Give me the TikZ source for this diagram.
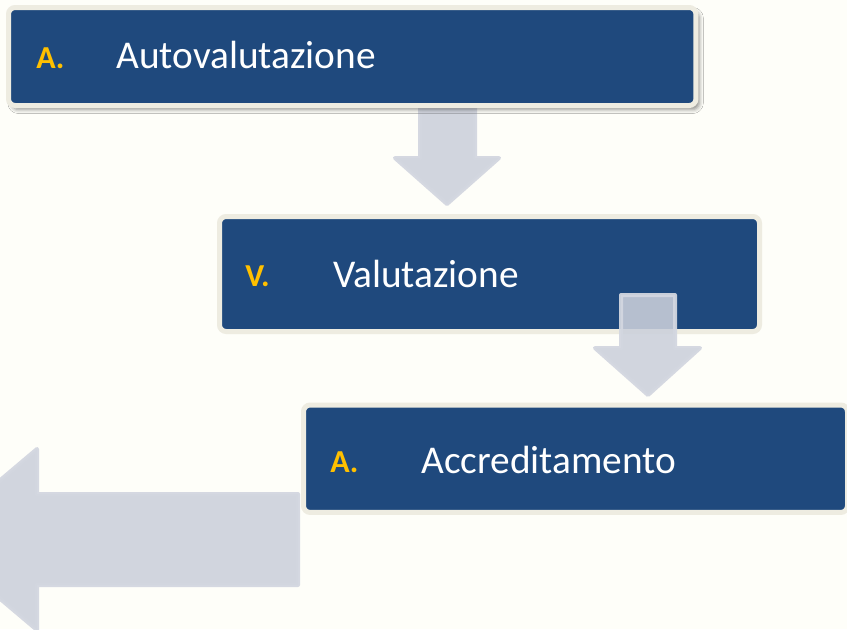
\documentclass[tikz,border=0pt]{standalone}
\usepackage{fontspec}
\setmainfont{Carlito}
\usetikzlibrary{positioning, shadows.blur}
\definecolor{paper}{HTML}{FEFEF9}
\definecolor{stageblue}{HTML}{1F497D}
\definecolor{stagerim}{HTML}{EEECE1}
\definecolor{stagegold}{HTML}{FFC000}
\definecolor{arrowgrey}{HTML}{CBD0DB}
\definecolor{arrowrim}{HTML}{D3D7E0}

\begin{document}
\begin{tikzpicture}[x=0.75pt, y=-0.75pt,
  stage/.style={rectangle, draw=stagerim, line width=3.75pt, fill=stageblue, rounded corners=5pt, inner sep=0pt, outer sep=0pt, anchor=north west},
  num/.style={anchor=base west, inner sep=0pt, text=stagegold, font=\bfseries\fontsize{24}{28}\selectfont},
  lab/.style={anchor=base west, inner sep=0pt, text=white, font=\fontsize{29.5}{34}\selectfont},
  blk/.style={fill=arrowgrey, fill opacity=0.88, draw=arrowrim, draw opacity=0.95, line width=3pt, line join=round}]
\useasboundingbox[fill=paper] (0,0) rectangle (847,629);
\draw[blk] (420,100) -- (475,100) -- (475,158) -- (499,158) -- (447,204) -- (395,158) -- (420,158) -- cycle;
\node[stage, minimum width=515.6pt, minimum height=73.5pt, blur shadow={shadow xshift=2.5pt, shadow yshift=-3pt, shadow opacity=45, shadow blur radius=3pt}] (auto) at (8.5,7.5) {};
\node[num] (autonum) at (36,68) {A.};
\node[lab] (autotxt) at (116,68) {Autovalutazione};
\node[stage, minimum width=405pt, minimum height=86.25pt] (valu) at (219.5,216.5) {};
\node[num] (valunum) at (245,286) {V.};
\node[lab] (valutxt) at (333,287) {Valutazione};
\draw[blk] (621,295) -- (675,295) -- (675,348) -- (700,348) -- (648,395) -- (595,348) -- (621,348) -- cycle;
\node[stage, minimum width=408pt, minimum height=80.6pt] (accr) at (303.5,405) {};
\node[num] (accrnum) at (330,472) {A.};
\node[lab] (accrtxt) at (421,473) {Accreditamento};
\draw[blk] (298,494) -- (37,494) -- (37,449) -- (-70,539.5) -- (37,630) -- (37,585) -- (298,585) -- cycle;
\end{tikzpicture}
\end{document}
